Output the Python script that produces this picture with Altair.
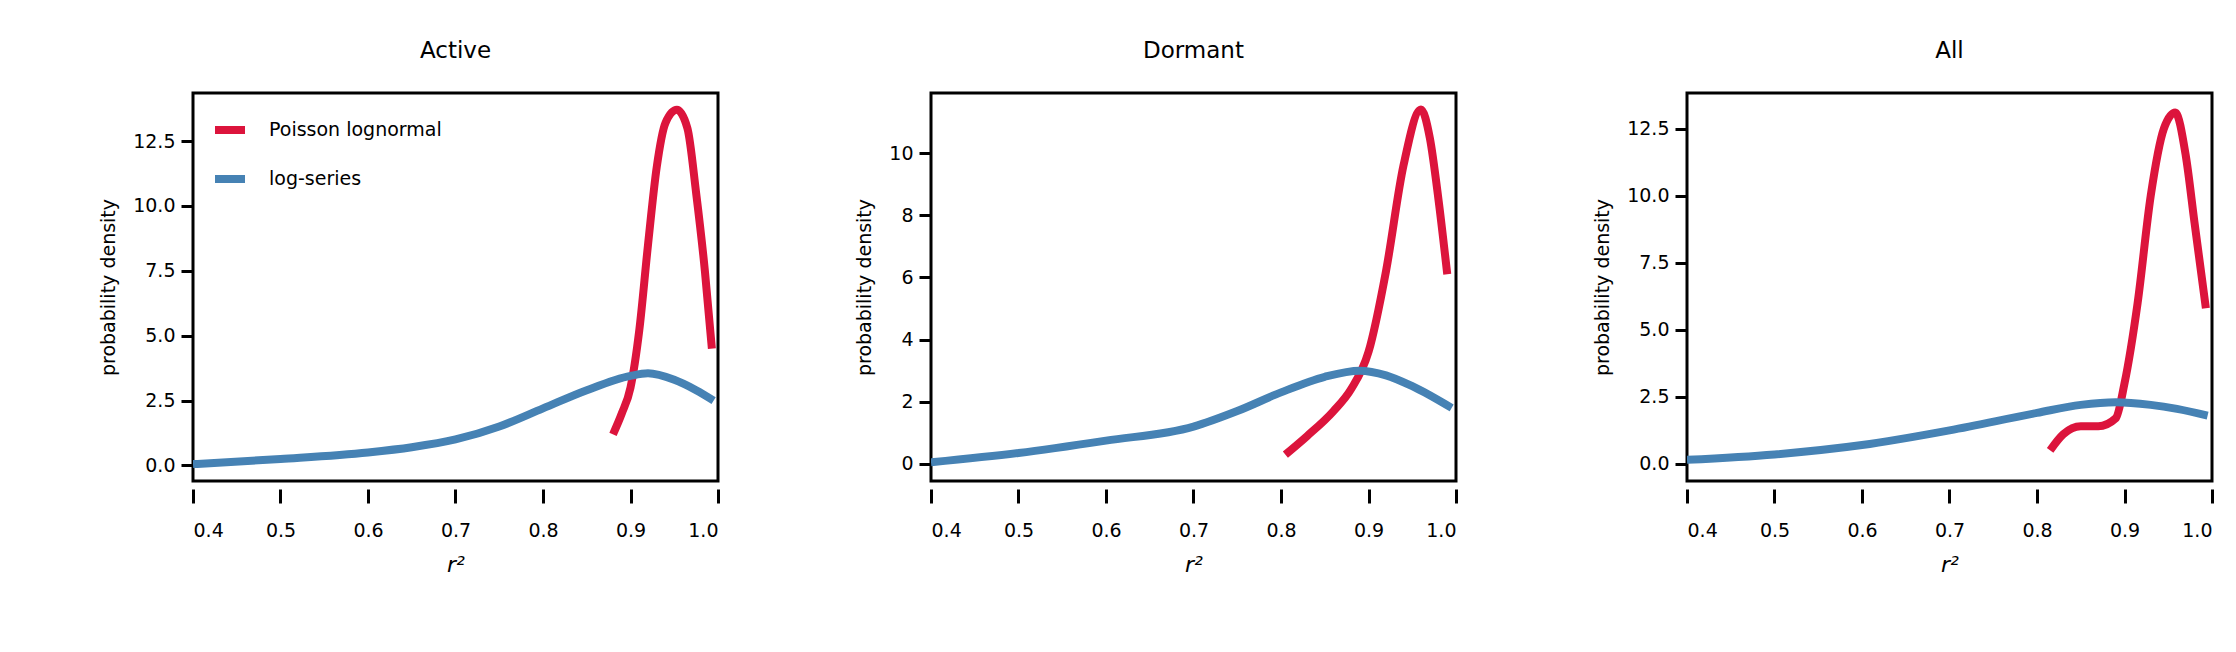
import altair as alt
import pandas as pd

titles = ["Active", "Dormant", "All"]
active_pln_x = [0.88, 0.89, 0.9, 0.91, 0.92, 0.93, 0.94, 0.953, 0.965, 0.975, 0.985, 0.993]
active_pln_y = [1.2, 2.0, 3.0, 5.2, 8.5, 11.5, 13.2, 13.7, 13.0, 10.5, 7.5, 4.5]
active_ls_x = [0.4, 0.5, 0.6, 0.65, 0.7, 0.75, 0.8, 0.85, 0.9, 0.92, 0.95, 0.975, 0.995]
active_ls_y = [0.05, 0.25, 0.5, 0.7, 1.0, 1.5, 2.2, 2.9, 3.45, 3.55, 3.3, 2.9, 2.5]
dormant_pln_x = [0.805, 0.83, 0.86, 0.88, 0.9, 0.92, 0.94, 0.96, 0.97, 0.98, 0.99]
dormant_pln_y = [0.3, 0.9, 1.7, 2.4, 3.6, 6.2, 9.6, 11.4, 10.5, 8.5, 6.1]
dormant_ls_x = [0.4, 0.5, 0.6, 0.7, 0.75, 0.8, 0.85, 0.89, 0.92, 0.95, 0.995]
dormant_ls_y = [0.05, 0.35, 0.75, 1.2, 1.7, 2.3, 2.8, 3.0, 2.85, 2.5, 1.8]
all_pln_x = [0.815, 0.83, 0.85, 0.87, 0.89, 0.9, 0.915, 0.93, 0.945, 0.958, 0.97, 0.98, 0.993]
all_pln_y = [0.5, 1.1, 1.4, 1.4, 1.7, 3.0, 6.0, 10.0, 12.5, 13.1, 11.5, 9.0, 5.8]
all_ls_x = [0.4, 0.5, 0.6, 0.7, 0.8, 0.85, 0.89, 0.93, 0.96, 0.995]
all_ls_y = [0.15, 0.35, 0.7, 1.25, 1.9, 2.2, 2.3, 2.2, 2.05, 1.8]

series = [
    (active_pln_x, active_pln_y, active_ls_x, active_ls_y),
    (dormant_pln_x, dormant_pln_y, dormant_ls_x, dormant_ls_y),
    (all_pln_x, all_pln_y, all_ls_x, all_ls_y),
]
y_domains = [[-0.6, 14.35], [-0.55, 11.93], [-0.64, 13.83]]
y_ticks = [[0, 2.5, 5, 7.5, 10, 12.5], [0, 2, 4, 6, 8, 10], [0, 2.5, 5, 7.5, 10, 12.5]]
labels = ["Poisson lognormal", "log-series"]
x_ticks = [0.4, 0.5, 0.6, 0.7, 0.8, 0.9, 1.0]

panels = []
for i in range(3):
    px, py, lx, ly = series[i]
    rows = []
    for k, (a, b) in enumerate(zip(px, py)):
        rows.append({"x": a, "y": b, "s": labels[0], "o": k})
    for k, (a, b) in enumerate(zip(lx, ly)):
        rows.append({"x": a, "y": b, "s": labels[1], "o": k})
    df = pd.DataFrame(rows)
    ch = alt.Chart(df).mark_line(strokeWidth=8, interpolate="monotone", clip=True).encode(
        x=alt.X("x:Q", scale=alt.Scale(domain=[0.4, 1.0], nice=False),
                axis=alt.Axis(values=x_ticks, format=".1f", title="r²", titleFontStyle="italic",
                              offset=8, domain=False, grid=False, tickSize=14, tickWidth=3,
                              tickColor="black", labelFontSize=19, titleFontSize=22,
                              titleFontWeight="normal", labelPadding=18, titlePadding=14,
                              labelColor="black", titleColor="black")),
        y=alt.Y("y:Q", scale=alt.Scale(domain=y_domains[i], nice=False, zero=False),
                axis=alt.Axis(values=y_ticks[i], format="~r" if i == 1 else ".1f",
                              title="probability density", domain=False, grid=False,
                              tickSize=12, tickWidth=3, tickColor="black", labelFontSize=19,
                              titleFontSize=19, titleFontWeight="normal", labelPadding=6,
                              titlePadding=14, labelColor="black", titleColor="black")),
        color=alt.Color("s:N", scale=alt.Scale(domain=labels, range=["#dc143c", "#4682b4"]),
                        legend=alt.Legend(title=None, orient="top-left", symbolType="stroke",
                                          symbolStrokeWidth=8, symbolSize=900, labelFontSize=19,
                                          labelColor="black", rowPadding=14, offset=18,
                                          labelOffset=20, labelLimit=400)),
        detail="s:N",
        order="o:Q",
    ).properties(width=525, height=388,
                 title=alt.TitleParams(titles[i], fontSize=23, fontWeight="normal", offset=30))
    panels.append(ch)

chart = alt.hconcat(*panels, spacing=133).configure(
    font="DejaVu Sans", padding={"left": 90, "top": 30, "right": 10, "bottom": 10}
).configure_view(stroke="black", strokeWidth=3)
chart.save("out.html", embed_options={"renderer": "svg", "actions": False})
